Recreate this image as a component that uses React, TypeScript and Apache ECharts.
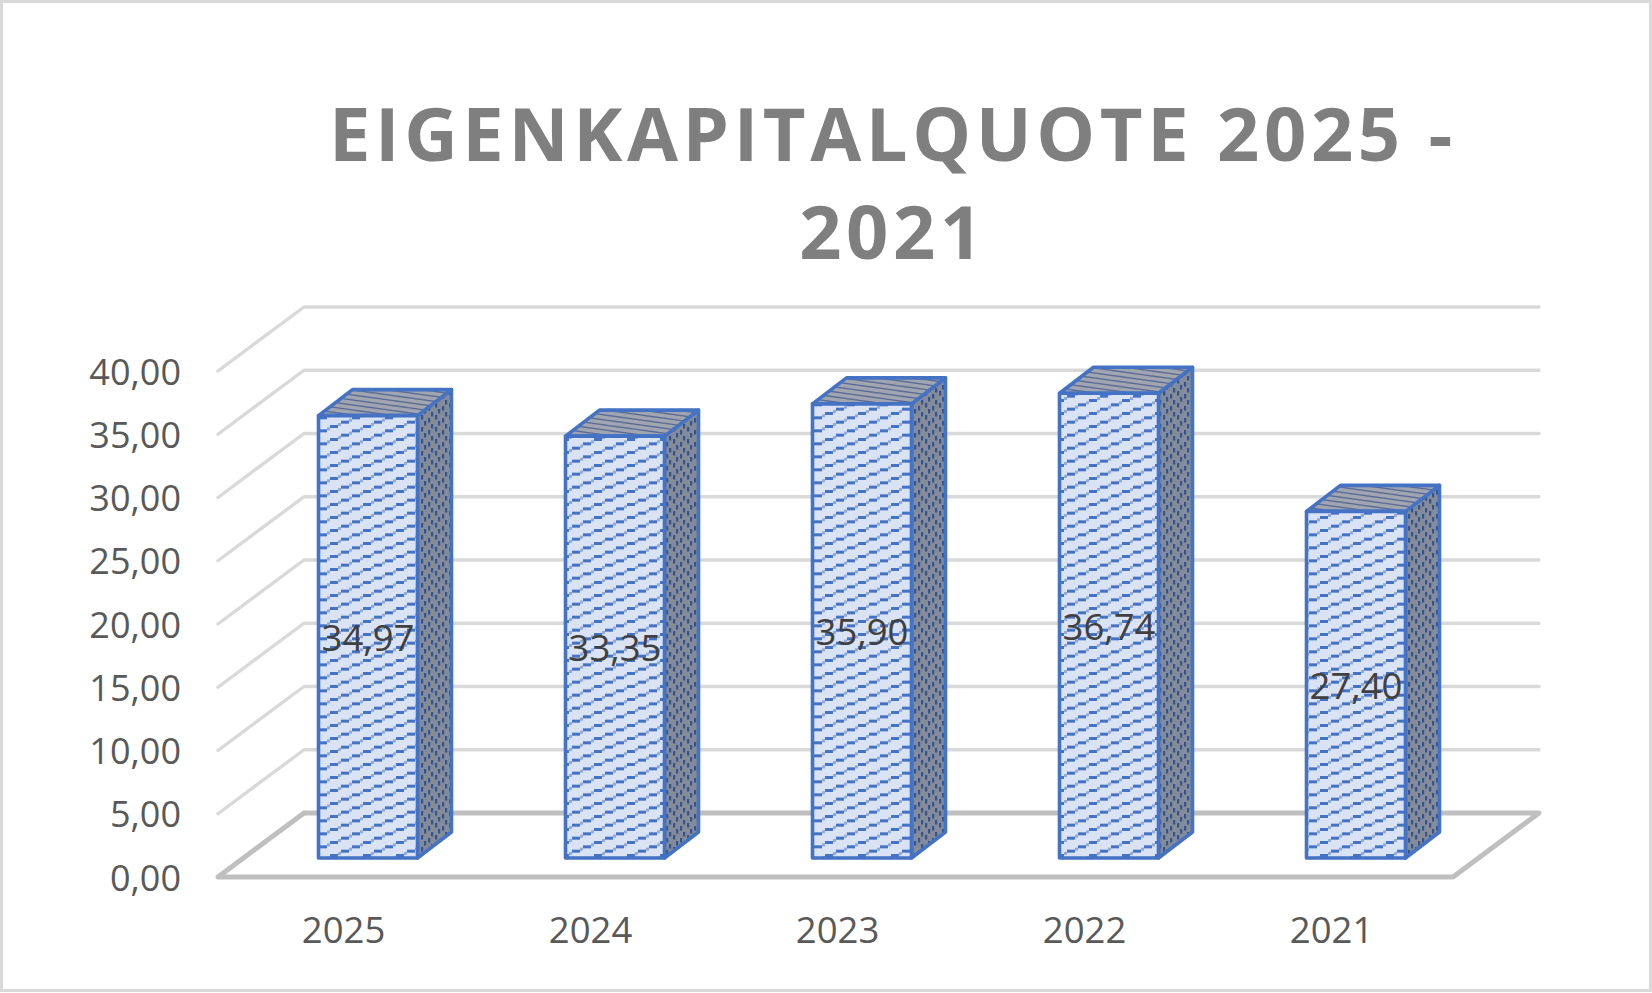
import React, { useEffect, useRef } from "react";
import * as echarts from "echarts";

const categories = ["2025", "2024", "2023", "2022", "2021"];
const quota = [34.97, 33.35, 35.9, 36.74, 27.4];
const gridTicks = [0, 5, 10, 15, 20, 25, 30, 35, 40];
const titleText = "EIGENKAPITALQUOTE 2025 -\n2021";

const FONT = "'Open Sans', sans-serif";
const WALL = { dx: 86, dy: -64 };
const BAR = { ox: 26.5, oy: -19, half: 49.5, dx: 34, dy: -26 };

const comma = (v: number) => v.toFixed(2).replace(".", ",");

function tile(w: number, h: number, bg: string, draw: (c: CanvasRenderingContext2D) => void) {
  const cv = document.createElement("canvas");
  cv.width = w;
  cv.height = h;
  const c = cv.getContext("2d")!;
  c.fillStyle = bg;
  c.fillRect(0, 0, w, h);
  draw(c);
  return { image: cv, repeat: "repeat", imageWidth: w, imageHeight: h } as any;
}

function makePatterns() {
  const front = tile(33, 13, "#dae3f3", (c) => {
    const steps = [[0, 9], [11, 4.67], [22, 0.33]];
    steps.forEach(([x, y]) => {
      for (const yy of [y, y + 13, y - 13]) {
        c.fillStyle = "rgba(68,114,196,0.5)";
        c.fillRect(x + 8, yy - 2, 3, 3);
        c.fillStyle = "#4472c4";
        c.fillRect(x, yy, 8, 3);
      }
    });
  });
  const side = tile(14, 12, "#858b98", (c) => {
    c.fillStyle = "#32548f";
    [[1, 7], [4, 1], [8, 10], [11, 4]].forEach(([x, y]) => {
      c.fillRect(x, y, 2.2, 4.5);
      c.fillRect(x, y - 12, 2.2, 4.5);
    });
  });
  const top = tile(36, 5, "#a0a5b0", (c) => {
    c.strokeStyle = "#5c6c96";
    c.lineWidth = 1.3;
    for (const off of [-5, 0, 5]) {
      c.beginPath();
      c.moveTo(0, off + 1);
      c.lineTo(36, off + 6);
      c.stroke();
    }
  });
  return { front, side, top };
}

export default function App() {
  const ref = useRef<HTMLDivElement>(null);

  useEffect(() => {
    const chart = echarts.init(ref.current!, null, { renderer: "svg" });
    const pat = makePatterns();

    const renderGrid = (params: any, api: any) => {
      const v = api.value(1) as number;
      const y = api.coord([0, v])[1];
      const cs = params.coordSys;
      const l = cs.x;
      const r = cs.x + cs.width;
      if (v === 0) {
        return {
          type: "polygon",
          shape: {
            points: [
              [l, y],
              [l + WALL.dx, y + WALL.dy],
              [r + WALL.dx, y + WALL.dy],
              [r, y],
            ],
          },
          style: { fill: "none", stroke: "#bfbfbf", lineWidth: 5, lineJoin: "round" },
        };
      }
      return {
        type: "polyline",
        shape: {
          points: [
            [l, y],
            [l + WALL.dx, y + WALL.dy],
            [r + WALL.dx, y + WALL.dy],
          ],
        },
        style: { fill: "none", stroke: "#d9d9d9", lineWidth: 3.4, lineJoin: "round", lineCap: "round" },
      };
    };

    const renderBar = (_: any, api: any) => {
      const i = api.value(0) as number;
      const v = api.value(1) as number;
      const [cx, yTop0] = api.coord([i, v]);
      const yBase0 = api.coord([i, 0])[1];
      const x0 = cx + BAR.ox - BAR.half;
      const x1 = cx + BAR.ox + BAR.half;
      const yT = yTop0 + BAR.oy;
      const yB = yBase0 + BAR.oy;
      const edge = { stroke: "#4472c4", lineWidth: 3.6, lineJoin: "round" };
      return {
        type: "group",
        children: [
          {
            type: "polygon",
            shape: { points: [[x1, yB], [x1 + BAR.dx, yB + BAR.dy], [x1 + BAR.dx, yT + BAR.dy], [x1, yT]] },
            style: { fill: pat.side, ...edge },
          },
          {
            type: "polygon",
            shape: { points: [[x0, yT], [x0 + BAR.dx, yT + BAR.dy], [x1 + BAR.dx, yT + BAR.dy], [x1, yT]] },
            style: { fill: pat.top, ...edge },
          },
          {
            type: "polygon",
            shape: { points: [[x0, yB], [x0, yT], [x1, yT], [x1, yB]] },
            style: { fill: pat.front, ...edge },
          },
          {
            type: "text",
            style: {
              text: comma(v),
              x: (x0 + x1) / 2,
              y: (yT + yB) / 2,
              align: "center",
              verticalAlign: "middle",
              fill: "#404040",
              font: `36.5px ${FONT}`,
            },
          },
        ],
      };
    };

    chart.setOption({
      animation: false,
      backgroundColor: "#ffffff",
      title: {
        text: titleText,
        left: 888,
        top: 78,
        textAlign: "center",
        textStyle: {
          fontFamily: FONT,
          fontWeight: "bold",
          fontSize: 74,
          lineHeight: 98,
          color: "#7f7f7f",
        },
      },
      grid: { left: 218, right: 199, top: 371, bottom: 116 },
      xAxis: {
        type: "category",
        data: categories,
        axisLine: { show: false },
        axisTick: { show: false },
        axisLabel: { margin: 33, padding: [0, 0, 0, 4], color: "#595959", fontSize: 36.5, fontFamily: FONT },
      },
      yAxis: {
        type: "value",
        min: 0,
        max: 40,
        interval: 5,
        axisLine: { show: false },
        axisTick: { show: false },
        splitLine: { show: false },
        axisLabel: {
          margin: 37,
          color: "#595959",
          fontSize: 36,
          fontFamily: FONT,
          formatter: (v: number) => comma(v),
        },
      },
      graphic: [
        {
          type: "rect",
          z: -1,
          silent: true,
          shape: { x: 1.5, y: 1.5, width: 1649, height: 989 },
          style: { fill: "none", stroke: "#d9d9d9", lineWidth: 3 },
        },
      ],
      series: [
        {
          type: "custom",
          name: "grid",
          z: 1,
          clip: false,
          silent: true,
          renderItem: renderGrid,
          encode: { x: 0, y: 1 },
          data: gridTicks.map((t) => [0, t]),
        },
        {
          type: "custom",
          name: "Eigenkapitalquote",
          z: 2,
          clip: false,
          silent: true,
          renderItem: renderBar,
          encode: { x: 0, y: 1 },
          data: quota.map((v, i) => [i, v]),
        },
      ],
    });

    // ECharts has no letter-spacing option for SVG text; the title's tracking is applied on its text nodes.
    ref.current!.querySelectorAll("text").forEach((el) => {
      const s = el.getAttribute("style") || "";
      if (s.includes("74px")) (el as SVGTextElement).style.letterSpacing = "4.6px";
    });
    return () => chart.dispose();
  }, []);

  return <div ref={ref} style={{ position: "absolute", left: 0, top: 0, width: 1652, height: 993 }} />;
}
